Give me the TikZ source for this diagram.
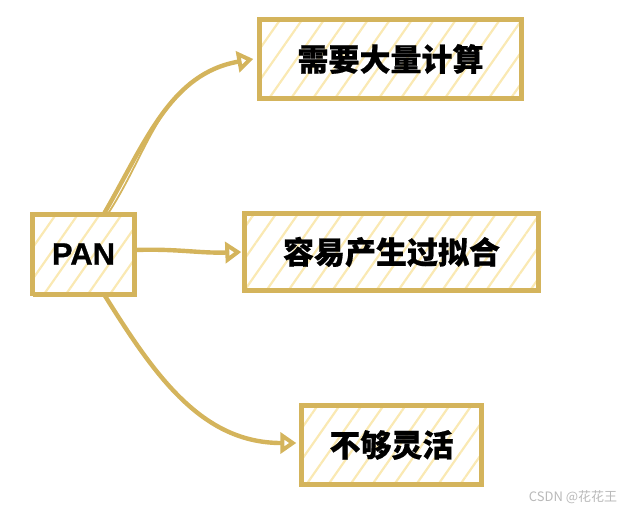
\documentclass[tikz,border=0pt]{standalone}
\usepackage{fontspec}
\setmainfont{Liberation Sans}
\newfontfamily\cjk{Noto Sans CJK SC}[BoldFeatures={FakeBold=0.6}]
\newfontfamily\panfont{Liberation Sans Bold}[FakeBold=0.8]
\usetikzlibrary{arrows.meta,patterns.meta}

\definecolor{gold}{HTML}{D4B45C}
\definecolor{hatch}{HTML}{FAE9B3}

\tikzset{
  sketchbox/.style={draw=gold, line width=4.4pt, inner sep=0pt,
    pattern={Lines[angle=55,distance=18pt,line width=2.2pt]}, pattern color=hatch,
    postaction={draw=gold, line width=1.8pt, transform canvas={shift={(1.4pt,-1.6pt)}}}},
  sketcharrow/.style={draw=gold, line width=4.4pt, line cap=round,
    -{Triangle[open, length=16pt, width=21pt, line width=4pt]}},
  sketchtrace/.style={draw=gold, line width=1.8pt, line cap=round},
  cjklabel/.style={font=\cjk\bfseries\fontsize{31}{31}\selectfont},
  latinlabel/.style={font=\panfont\fontsize{31}{31}\selectfont}
}

\begin{document}
\begin{tikzpicture}[x=1pt,y=1pt]
\useasboundingbox (0,0) rectangle (634,-514);
% boxes
\node[sketchbox, latinlabel, minimum width=102pt, minimum height=80pt] (pan) at (83.5,-254) {PAN};
\node[sketchbox, cjklabel, minimum width=262pt, minimum height=79pt] (compute) at (390.5,-59) {需要大量计算};
\node[sketchbox, cjklabel, minimum width=294pt, minimum height=77pt] (overfit) at (391.5,-252) {容易产生过拟合};
\node[sketchbox, cjklabel, minimum width=180pt, minimum height=79pt] (rigid) at (391.5,-445) {不够灵活};
% connectors
\draw[sketcharrow] ([xshift=21pt]pan.north) to[out=60,in=190] ([xshift=-4pt]compute.west);
\draw[sketchtrace] ([xshift=25pt]pan.north) to[out=57,in=192] ([xshift=-20pt,yshift=-2pt]compute.west);
\draw[sketcharrow] ([yshift=4pt]pan.east) to[out=2,in=182] ([xshift=-1pt]overfit.west);
\draw[sketcharrow] ([xshift=21pt]pan.south) to[out=-58,in=180] ([xshift=-3pt,yshift=2pt]rigid.west);
% watermark
\node[font=\cjk\fontsize{13}{13}\selectfont, text=gray!55] (mark) at (573,-497) {CSDN @花花王};
\end{tikzpicture}
\end{document}
